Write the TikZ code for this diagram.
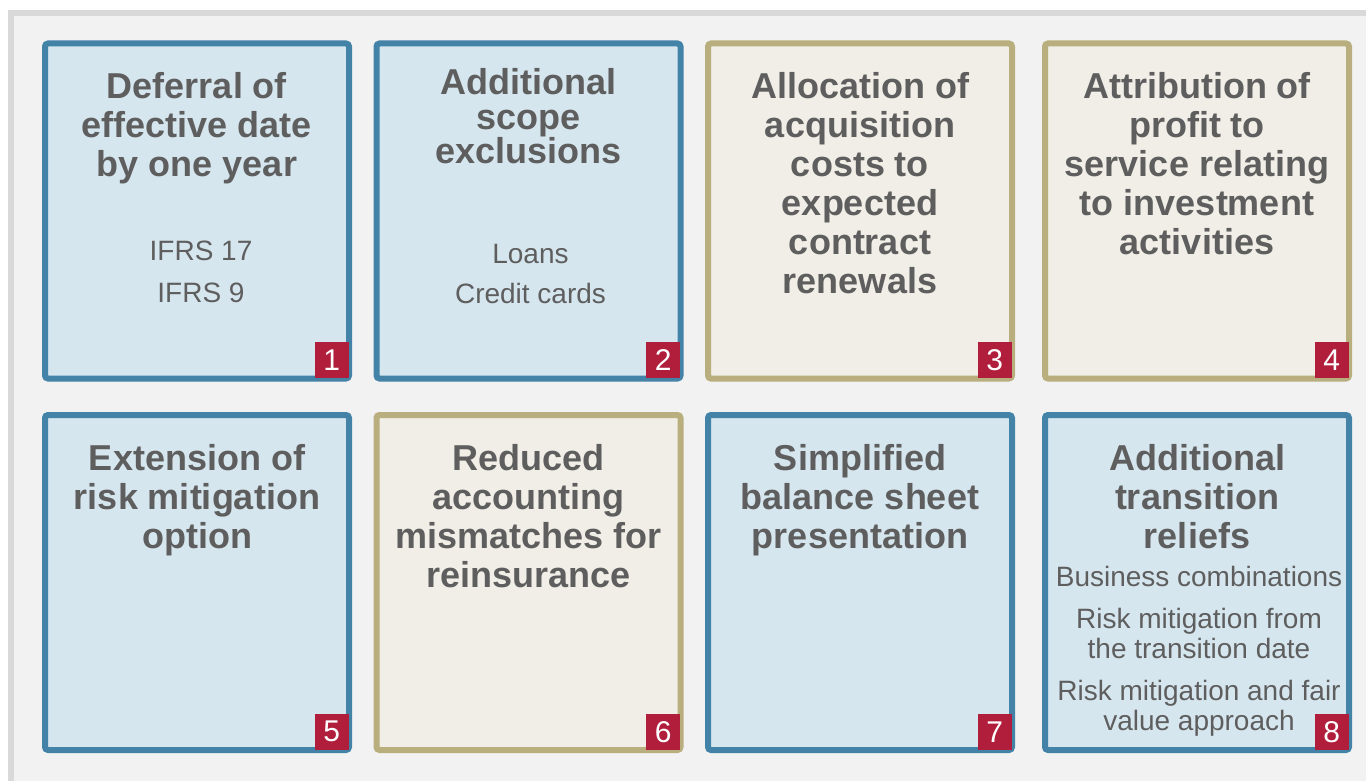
\documentclass[tikz,border=0pt]{standalone}
\usepackage{fontspec}
\setmainfont{Liberation Sans}
\usetikzlibrary{positioning}

\definecolor{panelgray}{HTML}{F2F2F2}
\definecolor{framegray}{HTML}{D9D9D9}
\definecolor{blueline}{HTML}{4383A8}
\definecolor{bluefill}{HTML}{D6E6EF}
\definecolor{tanline}{HTML}{B8AE7E}
\definecolor{tanfill}{HTML}{F0EEE6}
\definecolor{badgered}{HTML}{B01E3C}
\definecolor{textgray}{HTML}{5E5E5E}

\begin{document}
\begin{tikzpicture}[x=1pt, y=-1pt]
    % Define styles
    \tikzstyle{card} = [draw, line width=6pt, rounded corners=3pt, minimum width=304pt, minimum height=335pt, inner sep=0pt, outer sep=0pt]
    \tikzstyle{bluecard} = [card, draw=blueline, fill=bluefill]
    \tikzstyle{tancard} = [card, draw=tanline, fill=tanfill]
    \tikzstyle{title} = [align=center, inner sep=0pt, text=textgray, font=\bfseries\fontsize{36}{39}\selectfont]
    \tikzstyle{items} = [align=center, inner sep=0pt, text=textgray, font=\fontsize{28}{30}\selectfont]
    \tikzstyle{badge} = [anchor=south east, fill=badgered, text=white, minimum width=34pt, minimum height=36pt, inner sep=0pt, font=\fontsize{30}{30}\selectfont]

    % Background panel
    \useasboundingbox (0,0) rectangle (1366,781);
    \clip (0,0) rectangle (1366,781);
    \draw[line width=6pt, draw=framegray, fill=panelgray] (11,13.5) rectangle (1400,820);

    % Cards
    \node[bluecard] (b1) at (197,211) {};
    \node[bluecard] (b2) at (528.5,211) {};
    \node[tancard] (b3) at (860,211) {};
    \node[tancard] (b4) at (1197,211) {};
    \node[bluecard] (b5) at (197,582.5) {};
    \node[tancard] (b6) at (528.5,582.5) {};
    \node[bluecard] (b7) at (860,582.5) {};
    \node[bluecard] (b8) at (1197,582.5) {};

    % Titles
    \node[title, below=29pt of b1.north] (t1) {Deferral of\\effective date\\by one year};
    \node[title, font=\bfseries\fontsize{36}{34.5}\selectfont, below=25pt of b2.north] (t2) {Additional\\scope\\exclusions};
    \node[title, below=29pt of b3.north] (t3) {Allocation of\\acquisition\\costs to\\expected\\contract\\renewals};
    \node[title, below=29pt of b4.north] (t4) {Attribution of\\profit to\\service relating\\to investment\\activities};
    \node[title, below=29.5pt of b5.north] (t5) {Extension of\\risk mitigation\\option};
    \node[title, below=29.5pt of b6.north] (t6) {Reduced\\accounting\\mismatches for\\reinsurance};
    \node[title, below=29.5pt of b7.north] (t7) {Simplified\\balance sheet\\presentation};
    \node[title, below=29.5pt of b8.north] (t8) {Additional\\transition\\reliefs};

    % Item lists
    \node[items, below=197.5pt of b1.north, xshift=4pt] (l1) {IFRS 17\\[11.7pt]IFRS 9};
    \node[items, below=201pt of b2.north, xshift=2pt] (l2) {Loans\\[10pt]Credit cards};
    \node[items, below=151pt of b8.north, xshift=2pt] (l8) {Business combinations\\[12pt]Risk mitigation from\\the transition date\\[12pt]Risk mitigation and fair\\value approach};

    % Number badges
    \foreach \n in {1,...,8} {
        \node[badge] (n\n) at (b\n.south east) {\n};
    }
\end{tikzpicture}
\end{document}
